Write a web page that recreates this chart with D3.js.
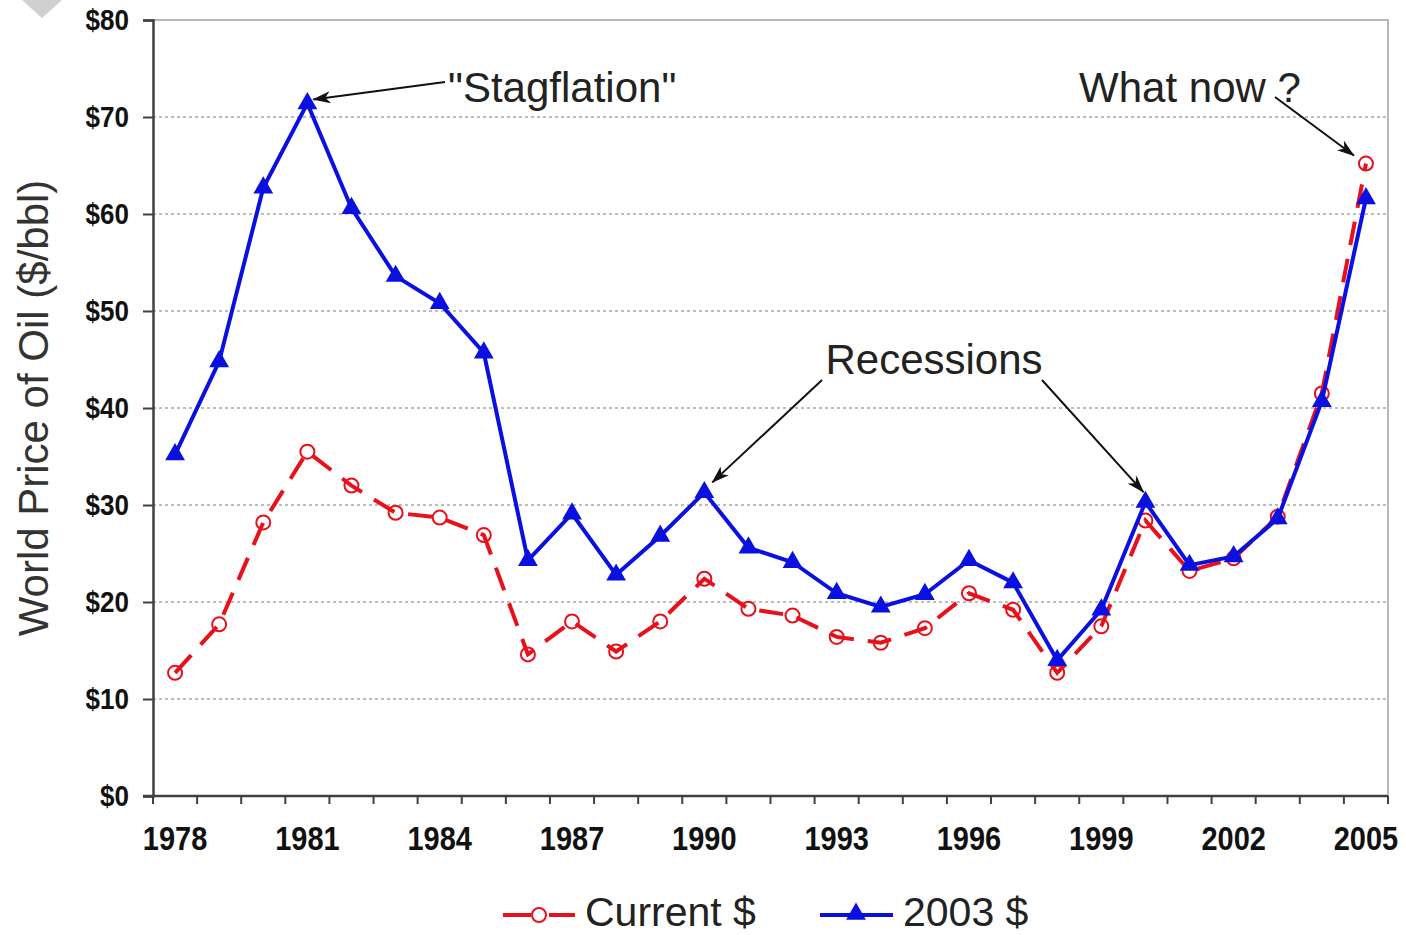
<!DOCTYPE html>
<html>
<head>
<meta charset="utf-8">
<script src="https://cdn.jsdelivr.net/npm/d3@7/dist/d3.min.js"></script>
<style>
  html, body { margin: 0; padding: 0; background: #fff; }
  svg { display: block; }
  text { font-family: "Liberation Sans", Arial, sans-serif; }
</style>
</head>
<body>
<svg id="chart" width="1406" height="935"></svg>
<script>
// ---- Data ----
const years = [1978,1979,1980,1981,1982,1983,1984,1985,1986,1987,1988,1989,1990,1991,1992,1993,1994,1995,1996,1997,1998,1999,2000,2001,2002,2003,2004,2005];
const currentDollars = [12.7,17.7,28.2,35.5,32.0,29.2,28.7,26.9,14.6,18.0,14.9,18.0,22.4,19.3,18.6,16.4,15.8,17.3,20.9,19.2,12.7,17.5,28.4,23.2,24.5,28.8,41.5,65.2];
const dollars2003 = [35.2,44.8,62.7,71.4,60.6,53.6,50.8,45.7,24.3,29.1,22.8,26.8,31.3,25.6,24.1,20.9,19.5,20.8,24.3,22.0,14.0,19.2,30.3,23.8,24.7,28.6,40.7,61.6];
const yTicks = [0,10,20,30,40,50,60,70,80];
const xTickYears = [1978,1981,1984,1987,1990,1993,1996,1999,2002,2005];
const seriesNames = ["Current $", "2003 $"];
const yTitle = "World Price of Oil ($/bbl)";

// ---- Layout ----
const svg = d3.select("#chart");
const L = 153, R = 1388, T = 20, B = 796;
const x = d3.scaleBand().domain(years).range([L, R]).padding(0);
const cx = yr => x(yr) + x.bandwidth() / 2;
const y = d3.scaleLinear().domain([0, 80]).range([B, T]);

// decorative corner shape
svg.append("path").attr("d", "M22,0 L62,0 L42,18 Z").attr("fill", "#d0d0d0");

// gridlines
svg.append("g").selectAll("line").data(yTicks.filter(v => v > 0 && v < 80)).join("line")
  .attr("x1", L).attr("x2", R).attr("y1", d => y(d)).attr("y2", d => y(d))
  .attr("stroke", "#a8a8a8").attr("stroke-width", 1.5).attr("stroke-dasharray", "3,3");

// plot border (top & right)
svg.append("path").attr("d", `M${L},${y(80)} H${R} V${B}`)
  .attr("fill", "none").attr("stroke", "#b8b8b8").attr("stroke-width", 2);

// Y axis
const yAxis = svg.append("g").attr("transform", `translate(${L},0)`)
  .call(d3.axisLeft(y).tickValues(yTicks).tickFormat(d => "$" + d).tickSize(10).tickPadding(14));
yAxis.select(".domain").attr("stroke", "#404040").attr("stroke-width", 2.5);
yAxis.selectAll(".tick line").attr("stroke", "#404040").attr("stroke-width", 2);
yAxis.selectAll(".tick text").attr("font-size", 26).attr("font-weight", "bold")
  .attr("font-family", "Liberation Sans, Arial, sans-serif").attr("fill", "#111")
  .attr("transform", "scale(1,1.1)").attr("y", 0).attr("dy", "0.32em")
  .each(function() {
    const t = d3.select(this.parentNode).attr("transform");
  });
// keep y labels centred on tick after vertical scale
yAxis.selectAll(".tick").each(function(d) {
  const ty = y(d);
  d3.select(this).select("text").attr("transform", `translate(0,${-ty * 0}) scale(1,1.1)`);
});

// X axis
const xAxisG = svg.append("g").attr("transform", `translate(0,${B})`);
xAxisG.append("line").attr("x1", L - 10).attr("x2", R).attr("y1", 0).attr("y2", 0)
  .attr("stroke", "#404040").attr("stroke-width", 2.5);
const boundaries = years.map(yr => x(yr)).concat([R]);
xAxisG.selectAll("line.tk").data(boundaries).join("line").attr("class", "tk")
  .attr("x1", d => d).attr("x2", d => d).attr("y1", 0).attr("y2", 8)
  .attr("stroke", "#404040").attr("stroke-width", 2);
xAxisG.selectAll("text").data(xTickYears).join("text")
  .attr("transform", d => `translate(${cx(d)},54) scale(1,1.12)`)
  .attr("text-anchor", "middle")
  .attr("font-size", 29).attr("font-weight", "bold").attr("fill", "#111")
  .text(d => d);

// Y title
svg.append("text").attr("transform", `translate(48,408) rotate(-90)`)
  .attr("text-anchor", "middle").attr("font-size", 42).attr("fill", "#333")
  .text(yTitle);

// Lines
const lineGen = d3.line().x((d, i) => cx(years[i])).y(d => y(d));
svg.append("path").datum(currentDollars).attr("d", lineGen)
  .attr("fill", "none").attr("stroke", "#e8101a").attr("stroke-width", 4)
  .attr("stroke-dasharray", "24,14");
svg.append("g").selectAll("circle").data(currentDollars).join("circle")
  .attr("cx", (d, i) => cx(years[i])).attr("cy", d => y(d)).attr("r", 7)
  .attr("fill", "none").attr("stroke", "#e8101a").attr("stroke-width", 2);

svg.append("path").datum(dollars2003).attr("d", lineGen)
  .attr("fill", "none").attr("stroke", "#0a10e0").attr("stroke-width", 4);
const tri = d3.symbol().type(d3.symbolTriangle).size(170);
svg.append("g").selectAll("path").data(dollars2003).join("path")
  .attr("transform", (d, i) => `translate(${cx(years[i])},${y(d)})`)
  .attr("d", tri).attr("fill", "#0a10e0");

// Annotations
svg.append("defs").append("marker").attr("id", "arr")
  .attr("viewBox", "0 0 18 12").attr("refX", 17).attr("refY", 6)
  .attr("markerWidth", 18).attr("markerHeight", 12).attr("markerUnits", "userSpaceOnUse")
  .attr("orient", "auto")
  .append("path").attr("d", "M0,0 L18,6 L0,12 L5,6 Z").attr("fill", "#111");

function arrow(x1, y1, x2, y2) {
  svg.append("line").attr("x1", x1).attr("y1", y1).attr("x2", x2).attr("y2", y2)
    .attr("stroke", "#111").attr("stroke-width", 2).attr("marker-end", "url(#arr)");
}
function label(t, xx, yy, anchor) {
  svg.append("text").attr("x", xx).attr("y", yy).attr("text-anchor", anchor || "start")
    .attr("font-size", 42).attr("fill", "#222").text(t);
}
const iOf = yr => years.indexOf(yr);
label('"Stagflation"', 448, 102);
arrow(445, 82, cx(1981) + 6, y(dollars2003[iOf(1981)]) - 4);
label("Recessions", 934, 374, "middle");
arrow(822, 380, cx(1990) + 8, y(dollars2003[iOf(1990)]) - 10);
arrow(1042, 380, cx(2000) - 2, y(dollars2003[iOf(2000)]) - 10);
label("What now ?", 1190, 102, "middle");
arrow(1275, 97, cx(2005) - 12, y(currentDollars[iOf(2005)]) - 8);

// Legend
const lg = svg.append("g");
const ly = 915;
lg.append("line").attr("x1", 503).attr("x2", 531).attr("y1", ly).attr("y2", ly)
  .attr("stroke", "#e8101a").attr("stroke-width", 4);
lg.append("line").attr("x1", 549).attr("x2", 575).attr("y1", ly).attr("y2", ly)
  .attr("stroke", "#e8101a").attr("stroke-width", 4);
lg.append("circle").attr("cx", 539).attr("cy", ly).attr("r", 7)
  .attr("fill", "none").attr("stroke", "#e8101a").attr("stroke-width", 2);
lg.append("text").attr("x", 585).attr("y", 926).attr("font-size", 41).attr("fill", "#222").text(seriesNames[0]);
lg.append("line").attr("x1", 820).attr("x2", 893).attr("y1", ly).attr("y2", ly)
  .attr("stroke", "#0a10e0").attr("stroke-width", 4);
lg.append("path").attr("transform", `translate(856,${ly - 1})`).attr("d", tri).attr("fill", "#0a10e0");
lg.append("text").attr("x", 903).attr("y", 926).attr("font-size", 41).attr("fill", "#222").text(seriesNames[1]);
</script>
</body>
</html>
